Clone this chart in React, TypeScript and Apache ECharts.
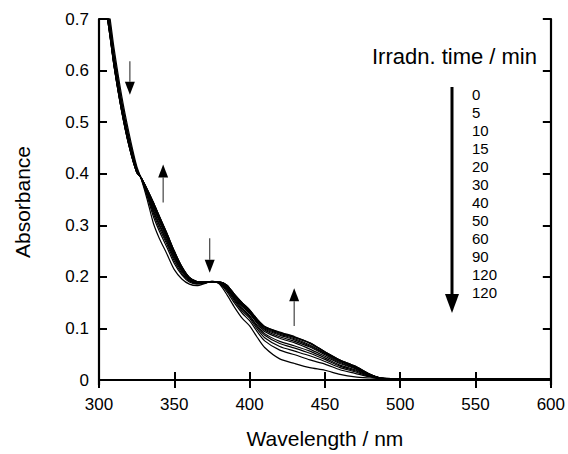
import React, { useEffect, useRef } from "react";
import * as echarts from "echarts";

const wavelengths = [300,305,310,315,320,325,328,332,336,340,345,350,355,360,365,370,375,380,385,390,395,400,405,410,420,430,440,450,460,470,480,487,500,550,600];

const timeLabels = ["0","5","10","15","20","30","40","50","60","90","120","120"];

const a0   = [0.782,0.745,0.643,0.552,0.478,0.415,0.39,0.35,0.305,0.275,0.245,0.214,0.196,0.186,0.183,0.187,0.192,0.186,0.165,0.141,0.12,0.105,0.083,0.063,0.041,0.032,0.024,0.019,0.011,0.006,0.004,0.003,0.002,0.002,0.002];
const a5   = [0.772,0.734,0.632,0.542,0.47,0.411,0.391,0.356,0.318,0.289,0.258,0.226,0.204,0.19,0.186,0.188,0.191,0.187,0.171,0.149,0.13,0.115,0.094,0.076,0.058,0.049,0.039,0.031,0.02,0.013,0.006,0.003,0.003,0.002,0.003];
const a10  = [0.768,0.729,0.627,0.538,0.466,0.409,0.391,0.359,0.324,0.295,0.264,0.231,0.207,0.192,0.187,0.188,0.191,0.188,0.174,0.153,0.134,0.12,0.099,0.082,0.065,0.056,0.047,0.036,0.024,0.016,0.007,0.004,0.002,0.002,0.002];
const a15  = [0.765,0.725,0.623,0.535,0.463,0.408,0.391,0.362,0.328,0.3,0.268,0.235,0.21,0.194,0.188,0.189,0.191,0.188,0.176,0.156,0.137,0.123,0.103,0.087,0.071,0.062,0.052,0.04,0.027,0.018,0.008,0.003,0.003,0.002,0.002];
const a20  = [0.762,0.722,0.62,0.532,0.462,0.407,0.391,0.363,0.331,0.303,0.271,0.238,0.212,0.195,0.188,0.189,0.191,0.189,0.178,0.158,0.14,0.125,0.106,0.09,0.075,0.066,0.056,0.043,0.029,0.02,0.009,0.004,0.002,0.002,0.003];
const a30  = [0.759,0.718,0.616,0.529,0.459,0.406,0.392,0.365,0.335,0.308,0.275,0.241,0.214,0.196,0.189,0.189,0.19,0.189,0.179,0.16,0.143,0.129,0.11,0.094,0.081,0.072,0.06,0.046,0.032,0.022,0.009,0.003,0.003,0.002,0.002];
const a40  = [0.757,0.716,0.614,0.527,0.457,0.405,0.392,0.367,0.338,0.311,0.278,0.244,0.216,0.197,0.19,0.19,0.19,0.189,0.181,0.162,0.145,0.131,0.112,0.097,0.084,0.075,0.064,0.049,0.034,0.023,0.01,0.004,0.002,0.002,0.002];
const a50  = [0.756,0.714,0.612,0.526,0.456,0.404,0.392,0.368,0.34,0.313,0.28,0.246,0.217,0.197,0.19,0.19,0.19,0.19,0.182,0.163,0.146,0.132,0.114,0.099,0.087,0.078,0.066,0.051,0.036,0.024,0.01,0.004,0.003,0.002,0.003];
const a60  = [0.754,0.713,0.611,0.524,0.455,0.404,0.392,0.368,0.342,0.315,0.282,0.247,0.218,0.198,0.19,0.19,0.19,0.19,0.182,0.164,0.148,0.134,0.115,0.101,0.089,0.08,0.068,0.052,0.037,0.025,0.01,0.004,0.002,0.002,0.002];
const a90  = [0.753,0.711,0.609,0.523,0.454,0.403,0.392,0.369,0.344,0.317,0.284,0.249,0.219,0.199,0.191,0.19,0.19,0.19,0.183,0.165,0.149,0.135,0.117,0.103,0.091,0.082,0.071,0.054,0.038,0.026,0.011,0.004,0.003,0.002,0.003];
const a120 = [0.752,0.71,0.608,0.522,0.453,0.403,0.392,0.37,0.345,0.318,0.285,0.25,0.22,0.199,0.191,0.19,0.19,0.19,0.184,0.166,0.15,0.136,0.118,0.104,0.092,0.083,0.072,0.055,0.039,0.027,0.011,0.004,0.002,0.002,0.002];
const a120b= [0.752,0.71,0.608,0.522,0.453,0.403,0.392,0.37,0.345,0.318,0.285,0.25,0.22,0.199,0.191,0.19,0.19,0.19,0.184,0.166,0.15,0.136,0.118,0.104,0.093,0.084,0.072,0.055,0.039,0.027,0.011,0.004,0.003,0.002,0.003];

const seriesValues = [a0, a5, a10, a15, a20, a30, a40, a50, a60, a90, a120, a120b];

const yTicks = [0, 0.1, 0.2, 0.3, 0.4, 0.5, 0.6, 0.7];

// annotation arrows in data coordinates: wavelength, tail absorbance, tip absorbance
const annotArrows = [
  { w: 320.5, from: 0.618, to: 0.553 },
  { w: 342.6, from: 0.344, to: 0.418 },
  { w: 373.5, from: 0.275, to: 0.208 },
  { w: 429.6, from: 0.105, to: 0.178 },
];

const FONT = "'Liberation Sans', Arial, Helvetica, sans-serif";

export default function App() {
  const ref = useRef<HTMLDivElement>(null);
  useEffect(() => {
    if (!ref.current) return;
    const chart = echarts.init(ref.current, null, { renderer: "svg" });
    const axisLine = { show: true, lineStyle: { color: "#000", width: 2.2 } };
    const tick = { show: true, inside: true, length: 8, lineStyle: { color: "#000", width: 2 } };
    const option: any = {
      animation: false,
      backgroundColor: "#fff",
      grid: { left: 99, right: 14, top: 19, bottom: 63 },
      xAxis: [
        {
          type: "value", min: 300, max: 600, interval: 50, position: "bottom",
          axisLine, axisTick: tick, splitLine: { show: false },
          axisLabel: { color: "#000", fontSize: 17, fontFamily: FONT, margin: 11 },
          name: "Wavelength / nm", nameLocation: "middle", nameGap: 43,
          nameTextStyle: { color: "#000", fontSize: 21, fontFamily: FONT },
        },
        {
          type: "value", min: 300, max: 600, interval: 50, position: "top",
          axisLine, axisTick: tick, splitLine: { show: false }, axisLabel: { show: false },
        },
      ],
      yAxis: [
        {
          type: "value", min: -0.0096, max: 0.7, position: "left",
          axisLine, splitLine: { show: false },
          axisTick: { ...tick, customValues: yTicks },
          axisLabel: {
            color: "#000", fontSize: 17, fontFamily: FONT, margin: 10,
            customValues: yTicks,
            formatter: (v: number) => (Math.abs(v) < 1e-9 ? "0" : v.toFixed(1)),
          },
          name: "Absorbance", nameLocation: "middle", nameGap: 66,
          nameTextStyle: { color: "#000", fontSize: 21, fontFamily: FONT },
        },
        {
          type: "value", min: -0.0096, max: 0.7, position: "right",
          axisLine, splitLine: { show: false },
          axisTick: { ...tick, customValues: yTicks },
          axisLabel: { show: false },
        },
      ],
      series: seriesValues.map((vals, i) => ({
        type: "line",
        name: timeLabels[i],
        xAxisIndex: 0,
        yAxisIndex: 0,
        data: wavelengths.map((w, j) => [w, vals[j]]),
        showSymbol: false,
        symbol: "none",
        smooth: 0.25,
        lineStyle: { color: "#000", width: 1.2 },
        clip: true,
        z: 2,
      })),
    };
    chart.setOption(option);

    const graphics: any[] = [];
    annotArrows.forEach((a) => {
      const p1 = chart.convertToPixel({ gridIndex: 0 }, [a.w, a.from]) as number[];
      const p2 = chart.convertToPixel({ gridIndex: 0 }, [a.w, a.to]) as number[];
      const dir = p2[1] > p1[1] ? 1 : -1;
      const headLen = 13;
      const half = 5;
      const baseY = p2[1] - dir * headLen;
      graphics.push({
        type: "line",
        shape: { x1: p1[0], y1: p1[1], x2: p2[0], y2: baseY },
        style: { stroke: "#444", lineWidth: 1.2 },
      });
      graphics.push({
        type: "polygon",
        shape: { points: [[p2[0] - half, baseY], [p2[0] + half, baseY], [p2[0], p2[1]]] },
        style: { fill: "#000" },
      });
    });

    // legend block
    graphics.push({
      type: "text",
      style: {
        text: "Irradn. time / min", x: 537, y: 56,
        textAlign: "right", textVerticalAlign: "middle", align: "right", verticalAlign: "middle",
        fontSize: 22, fontFamily: FONT, fill: "#000",
      },
    });
    timeLabels.forEach((t, i) => {
      graphics.push({
        type: "text",
        style: {
          text: t, x: 472, y: 94 + i * 18,
          textAlign: "left", textVerticalAlign: "middle", align: "left", verticalAlign: "middle",
          fontSize: 15, fontFamily: FONT, fill: "#000",
        },
      });
    });
    graphics.push({
      type: "line",
      shape: { x1: 452, y1: 87, x2: 452, y2: 296 },
      style: { stroke: "#000", lineWidth: 3 },
    });
    graphics.push({
      type: "polygon",
      shape: { points: [[445, 294], [459, 294], [452, 313]] },
      style: { fill: "#000" },
    });

    chart.setOption({ graphic: graphics });
    return () => chart.dispose();
  }, []);
  return (
    <div
      ref={ref}
      style={{ position: "fixed", left: 0, top: 0, width: 568, height: 454, background: "#fff" }}
    />
  );
}
